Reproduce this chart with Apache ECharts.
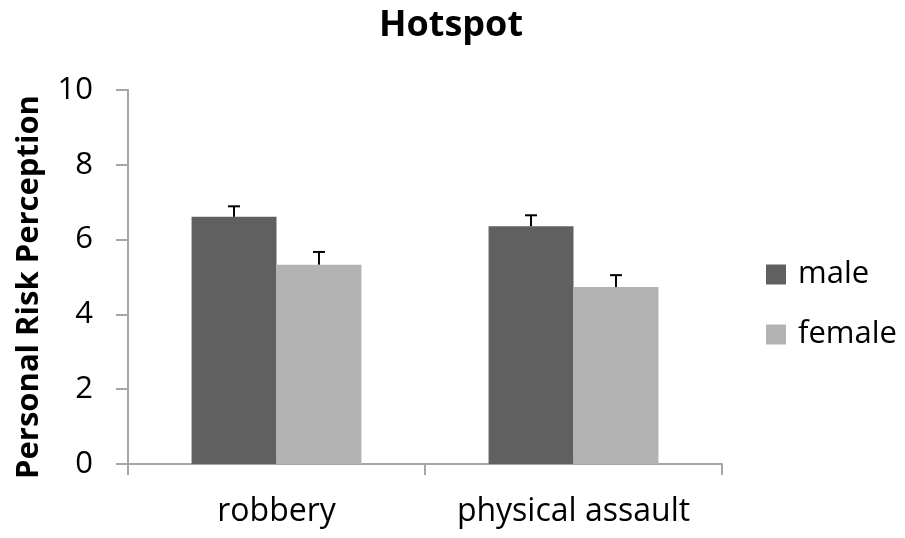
<!DOCTYPE html>
<html><head><meta charset="utf-8">
<script src="https://cdn.jsdelivr.net/npm/echarts@6/dist/echarts.min.js"></script>
<style>html,body{margin:0;padding:0;background:#fff}#c{width:905px;height:538px}</style>
</head><body><div id="c"></div>
<script>
var categories = ['robbery', 'physical assault'];
var seriesNames = ['male', 'female'];
var maleValues = [6.61, 6.36];
var femaleValues = [5.33, 4.73];
var maleErr = [0.28, 0.29];
var femaleErr = [0.34, 0.32];
var yTicks = [0, 2, 4, 6, 8, 10];

var font = 'Open Sans';
var chart = echarts.init(document.getElementById('c'));

function errSeries(name, vals, errs, idx) {
  return {
    type: 'custom', name: name + ' err', silent: true, z: 10,
    data: vals.map(function (v, i) { return [i, v, v + errs[i]]; }),
    renderItem: function (params, api) {
      var ci = api.value(0);
      var lo = api.coord([ci, api.value(1)]);
      var hi = api.coord([ci, api.value(2)]);
      var bw = api.size([1, 0])[0];
      var barW = bw * 0.286;
      var x = lo[0] + (idx === 0 ? -barW / 2 : barW / 2);
      var cap = 6;
      var st = { stroke: '#000', lineWidth: 2 };
      return { type: 'group', children: [
        { type: 'line', shape: { x1: x, y1: lo[1], x2: x, y2: hi[1] }, style: st },
        { type: 'line', shape: { x1: x - cap, y1: hi[1], x2: x + cap, y2: hi[1] }, style: st }
      ]};
    }
  };
}

chart.setOption({
  animation: false,
  textStyle: { fontFamily: font },
  title: { text: 'Hotspot', left: 446, top: 3, textAlign: 'center',
    textStyle: { fontFamily: font, fontWeight: 'bold', fontSize: 36, color: '#000' } },
  legend: { orient: 'vertical', left: 761, top: 254, itemGap: 29, itemWidth: 20, itemHeight: 20,
    icon: 'rect', data: seriesNames,
    textStyle: { fontFamily: font, fontSize: 31, color: '#000', padding: [0, 0, 0, 7] } },
  grid: { left: 128, right: 183, top: 90, bottom: 74 },
  xAxis: { type: 'category', data: categories,
    axisLine: { lineStyle: { color: '#a6a6a6', width: 2 } },
    axisTick: { show: true, length: 11, lineStyle: { color: '#a6a6a6', width: 2 } },
    axisLabel: { interval: 0, fontFamily: font, fontSize: 32, color: '#000', margin: 32 } },
  yAxis: { type: 'value', min: 0, max: 10, interval: 2,
    name: 'Personal Risk Perception', nameLocation: 'middle', nameGap: 83,
    nameTextStyle: { fontFamily: font, fontWeight: 'bold', fontSize: 31, color: '#000', padding: [0, 20, 0, 0] },
    axisLine: { show: true, lineStyle: { color: '#a6a6a6', width: 2 } },
    axisTick: { show: true, length: 12, lineStyle: { color: '#a6a6a6', width: 2 } },
    splitLine: { show: false },
    axisLabel: { fontFamily: font, fontSize: 31, color: '#000', margin: 35,
      formatter: function (v) { return yTicks.indexOf(v) >= 0 ? String(v) : ''; } } },
  series: [
    { type: 'bar', name: 'male', data: maleValues, barWidth: '28.6%', barGap: '0%',
      itemStyle: { color: '#606060' } },
    { type: 'bar', name: 'female', data: femaleValues, barWidth: '28.6%',
      itemStyle: { color: '#b3b3b3' } },
    errSeries('male', maleValues, maleErr, 0),
    errSeries('female', femaleValues, femaleErr, 1)
  ]
});
</script></body></html>
